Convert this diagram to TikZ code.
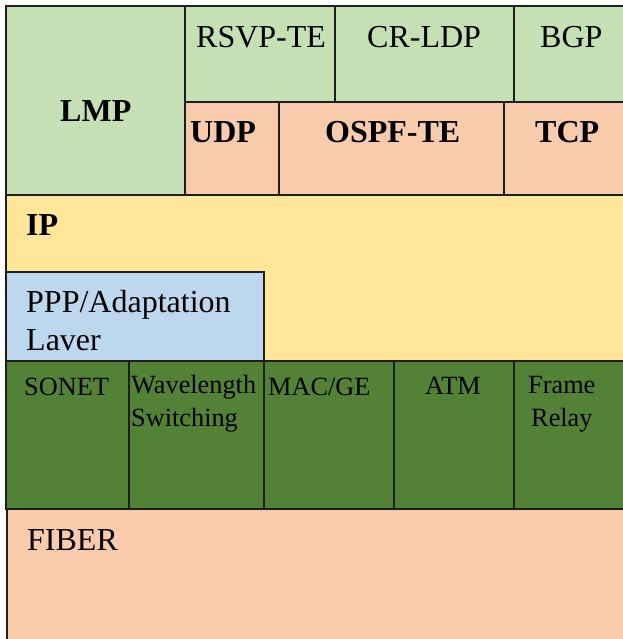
\documentclass[tikz,border=0pt]{standalone}
\usepackage{fontspec}
\setmainfont{Liberation Serif}
\definecolor{lgreen}{HTML}{C5E0B4}
\definecolor{salmon}{HTML}{F8CBAD}
\definecolor{yel}{HTML}{FFE699}
\definecolor{lblue}{HTML}{BDD7EE}
\definecolor{dgreen}{HTML}{538135}
\definecolor{edge}{HTML}{1E1E1E}
\begin{document}
\begin{tikzpicture}[x=1pt,y=-1pt,
  cell/.style={draw=edge,line width=1.4pt},
  big/.style={inner sep=0pt,anchor=base west,font=\fontsize{32}{34}\selectfont},
  bigb/.style={big,font=\fontsize{32}{34}\selectfont\bfseries},
  small/.style={inner sep=0pt,anchor=base west,font=\fontsize{26.3}{30}\selectfont}]
\useasboundingbox (0,0) rectangle (622,639);
\fill[white] (0,0) rectangle (622,639);
% top block
\filldraw[cell,fill=lgreen] (6,6) rectangle (185,195);
\filldraw[cell,fill=lgreen] (185,6) rectangle (335,102);
\filldraw[cell,fill=lgreen] (335,6) rectangle (514,102);
\filldraw[cell,fill=lgreen] (514,6) rectangle (630,102);
\filldraw[cell,fill=salmon] (185,102) rectangle (279,195);
\filldraw[cell,fill=salmon] (279,102) rectangle (504,195);
\filldraw[cell,fill=salmon] (504,102) rectangle (630,195);
% IP
\filldraw[cell,fill=yel] (6,195) rectangle (630,361);
\filldraw[cell,fill=lblue] (6,272) rectangle (264,361);
% link layer
\filldraw[cell,fill=dgreen] (6,361) rectangle (129,509);
\filldraw[cell,fill=dgreen] (129,361) rectangle (264,509);
\filldraw[cell,fill=dgreen] (264,361) rectangle (394,509);
\filldraw[cell,fill=dgreen] (394,361) rectangle (514,509);
\filldraw[cell,fill=dgreen] (514,361) rectangle (630,509);
% fiber
\filldraw[cell,fill=salmon] (7,509) rectangle (630,650);
% texts
\node[big] (rsvp) at (196,48) {RSVP-TE};
\node[big] (crldp) at (367,48) {CR-LDP};
\node[big] (bgp) at (540,48) {BGP};
\node[bigb] (lmp) at (60,122) {LMP};
\node[bigb] (udp) at (190,143) {UDP};
\node[bigb] (ospf) at (325,143) {OSPF-TE};
\node[bigb] (tcp) at (535,143) {TCP};
\node[bigb] (ip) at (26,235) {IP};
\node[big] (ppp) at (26,312) {PPP/Adaptation};
\node[big] (laver) at (26,350) {Laver};
\node[small] (sonet) at (24,395) {SONET};
\node[small] (wave) at (131,393) {Wavelength};
\node[small] (switch) at (131,426) {Switching};
\node[small] (mac) at (268,395) {MAC/GE};
\node[small] (atm) at (425,394) {ATM};
\node[small] (frame) at (528,393) {Frame};
\node[small] (relay) at (531,426) {Relay};
\node[big] (fiber) at (27,550) {FIBER};
\end{tikzpicture}
\end{document}
